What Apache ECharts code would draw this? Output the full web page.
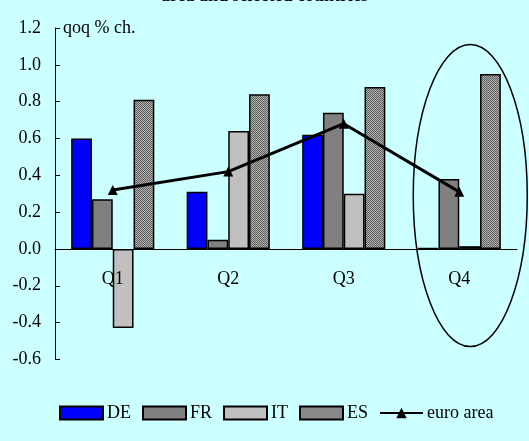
<!DOCTYPE html>
<html>
<head>
<meta charset="utf-8">
<script src="https://cdn.jsdelivr.net/npm/echarts@6/dist/echarts.min.js"></script>
<style>
  html, body { margin: 0; padding: 0; background: #CCFFFF; }
  #chart { width: 529px; height: 441px; }
</style>
</head>
<body>
<div id="chart"></div>
<script>
// Quarterly GDP growth, qoq % change
const quarters = ['Q1', 'Q2', 'Q3', 'Q4'];
const de = [0.60, 0.31, 0.62, 0.005];
const fr = [0.27, 0.05, 0.74, 0.38];
const it = [-0.43, 0.64, 0.30, 0.015];
const es = [0.81, 0.84, 0.88, 0.95];
const euroArea = [0.32, 0.42, 0.68, 0.31];

const FONT = '"Liberation Serif", "Times New Roman", serif';

// fine dotted grey fill for the ES bars
function makeHatch() {
  const c = document.createElement('canvas');
  c.width = 2; c.height = 2;
  const g = c.getContext('2d');
  g.fillStyle = '#b0b0b0'; g.fillRect(0, 0, 2, 2);
  g.fillStyle = '#606060'; g.fillRect(0, 0, 1, 1); g.fillRect(1, 1, 1, 1);
  return c;
}
const hatch = { image: makeHatch(), repeat: 'repeat' };

const chart = echarts.init(document.getElementById('chart'), null, { renderer: 'canvas' });

const barStyle = (color) => ({ color: color, borderColor: '#000', borderWidth: 1.5 });

const GRID_BOTTOM = 81.6;
const PLOT_H = 441 - 28 - GRID_BOTTOM;
// distance from the bottom of the plot up to the zero line (range -0.6 .. 1.2)
const ZERO_OFFSET = PLOT_H * 0.6 / 1.8;

chart.setOption({
  backgroundColor: '#CCFFFF',
  animation: false,
  textStyle: { fontFamily: FONT, color: '#000' },
  grid: { left: 55, right: 12, top: 28, bottom: GRID_BOTTOM, containLabel: false },
  legend: {
    bottom: 14,
    left: 54,
    itemWidth: 43,
    itemHeight: 13,
    itemGap: 11,
    textStyle: { fontFamily: FONT, fontSize: 18, color: '#000', padding: [0, 0, 0, -1] },
    data: [
      { name: 'DE', icon: 'rect' },
      { name: 'FR', icon: 'rect' },
      { name: 'IT', icon: 'rect' },
      { name: 'ES', icon: 'rect' },
      { name: 'euro area' }
    ]
  },
  xAxis: [
    {
      type: 'category',
      data: quarters,
      axisLine: { onZero: true, lineStyle: { color: '#000', width: 1 } },
      axisTick: { inside: true, length: 5, lineStyle: { color: '#000' } },
      axisLabel: { show: false }
    },
    {
      // quarter labels sit just under the zero line, drawn over the bars
      type: 'category',
      data: quarters,
      position: 'bottom',
      offset: -ZERO_OFFSET,
      z: 10,
      axisLine: { show: false, onZero: false },
      axisTick: { show: false },
      axisLabel: { margin: 21, fontFamily: FONT, fontSize: 18, color: '#000' }
    }
  ],
  yAxis: {
    type: 'value',
    min: -0.6, max: 1.2, interval: 0.2,
    name: 'qoq % ch.',
    nameLocation: 'end',
    nameGap: 0,
    nameTextStyle: { fontFamily: FONT, fontSize: 18, color: '#000', align: 'left', verticalAlign: 'middle', padding: [0, 0, 0, 8] },
    splitLine: { show: false },
    axisLine: { show: true, lineStyle: { color: '#000', width: 1 } },
    axisTick: { show: true, inside: true, length: 5, lineStyle: { color: '#000' } },
    axisLabel: {
      margin: 14, fontFamily: FONT, fontSize: 18, color: '#000',
      formatter: (v) => v.toFixed(1)
    }
  },
  series: [
    { name: 'DE', type: 'bar', data: de, barGap: '0%', barCategoryGap: '28%', itemStyle: barStyle('#0000FF') },
    { name: 'FR', type: 'bar', data: fr, itemStyle: barStyle('#808080') },
    { name: 'IT', type: 'bar', data: it, itemStyle: barStyle('#C0C0C0') },
    { name: 'ES', type: 'bar', data: es, itemStyle: barStyle(hatch) },
    {
      name: 'euro area', type: 'line', data: euroArea,
      symbol: 'triangle', symbolSize: 10,
      lineStyle: { color: '#000', width: 3 },
      itemStyle: { color: '#000' },
      z: 5
    }
  ]
});

// Title line (continues from above) and the Q4 highlight ellipse
const q4 = chart.convertToPixel({ xAxisIndex: 0 }, 'Q4');
const mid = chart.convertToPixel({ yAxisIndex: 0 }, 0.29);
chart.setOption({
  graphic: [
    {
      type: 'text', left: 'center', top: -13,
      style: { text: 'area and selected countries', font: 'bold 18px ' + FONT, fill: '#000' }
    },
    {
      type: 'ellipse',
      shape: { cx: q4 + 11, cy: mid, rx: 57, ry: 151 },
      style: { fill: 'none', stroke: '#000', lineWidth: 1.5 },
      z: 10
    }
  ]
});
</script>
</body>
</html>
